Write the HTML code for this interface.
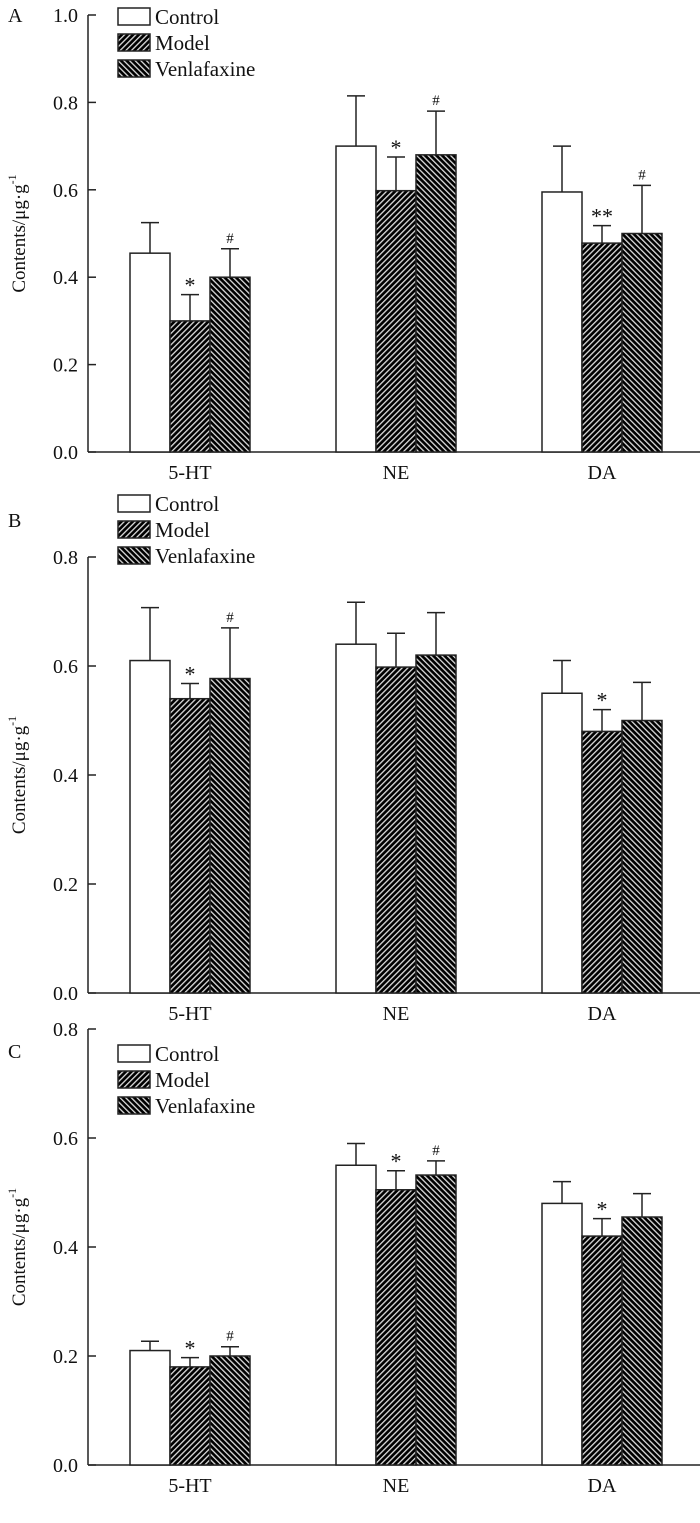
<!DOCTYPE html>
<html><head><meta charset="utf-8"><style>
body{margin:0;background:#fff}
svg text{font-family:"Liberation Serif",serif;fill:#111}
</style></head><body>
<svg id="chart" width="700" height="1518" viewBox="0 0 700 1518" xmlns="http://www.w3.org/2000/svg">
<defs>
<pattern id="hatchM" patternUnits="userSpaceOnUse" width="4" height="4" patternTransform="rotate(45)">
<rect width="4" height="4" fill="#000"/><rect x="0" width="1.3" height="4" fill="#ddd"/></pattern>
<pattern id="hatchV" patternUnits="userSpaceOnUse" width="4" height="4" patternTransform="rotate(-45)">
<rect width="4" height="4" fill="#000"/><rect x="0" width="1.3" height="4" fill="#ddd"/></pattern>
</defs>
<g id="root"></g>
</svg>
<script>
const categories=["5-HT","NE","DA"];
const seriesNames=["Control","Model","Venlafaxine"];
const A_means=[[0.455,0.70,0.595],[0.30,0.598,0.478],[0.40,0.68,0.50]];
const A_errs=[[0.525,0.815,0.70],[0.36,0.675,0.518],[0.465,0.78,0.61]];
const A_marks=[["","",""],["*","*","**"],["#","#","#"]];
const A_ticks=["0.0","0.2","0.4","0.6","0.8","1.0"];
const B_means=[[0.61,0.64,0.55],[0.54,0.598,0.48],[0.577,0.62,0.50]];
const B_errs=[[0.707,0.717,0.61],[0.568,0.66,0.52],[0.67,0.698,0.57]];
const B_marks=[["","",""],["*","","*"],["#","",""]];
const B_ticks=["0.0","0.2","0.4","0.6","0.8"];
const C_means=[[0.21,0.55,0.48],[0.18,0.505,0.42],[0.20,0.532,0.455]];
const C_errs=[[0.227,0.59,0.52],[0.197,0.54,0.452],[0.217,0.558,0.498]];
const C_marks=[["","",""],["*","*","*"],["#","#",""]];
const C_ticks=["0.0","0.2","0.4","0.6","0.8"];

const NS="http://www.w3.org/2000/svg";
const root=document.getElementById('root');
function mk(tag,attrs,parent){const e=document.createElementNS(NS,tag);for(const k in attrs)e.setAttribute(k,attrs[k]);(parent||root).appendChild(e);return e;}
const fills=["#fff","url(#hatchM)","url(#hatchV)"];

function panel(letter,top,y0,yTop,maxV,ticks,means,errs,marks,legY){
  const g=mk('g',{});
  
  
  const y=v=>y0-(v/maxV)*(y0-yTop);
  const x=(ci,si)=>130+ci*206+si*40;
  const lab=mk('text',{x:8,y:top,'font-size':20},g);lab.textContent=letter;
  
  
  const ax=mk('line',{x1:88,y1:yTop,x2:88,y2:y0,stroke:'#222','stroke-width':1.5},g);
  
  
  const xa=mk('line',{x1:88,y1:y0,x2:700,y2:y0,stroke:'#222','stroke-width':1.5},g);
  
  
  ticks.forEach(t=>{const v=parseFloat(t);const yy=y(v);
    mk('line',{x1:88,y1:yy,x2:96,y2:yy,stroke:'#222','stroke-width':1.5},g);
    const tx=mk('text',{x:78,y:yy+7,'font-size':20,'text-anchor':'end'},g);tx.textContent=t;
    
    });
  const cy=(yTop+y0)/2;
  const tt=mk('text',{x:0,y:0,'font-size':19,'text-anchor':'middle',transform:`translate(25,${cy}) rotate(-90)`},g);
  tt.innerHTML='Contents/μg·g<tspan dy="-9" font-size="12">-1</tspan>';
  
  
  categories.forEach((c,ci)=>{
    const cl=mk('text',{x:x(ci,1.5),y:y0+27,'font-size':20,'text-anchor':'middle'},g);cl.textContent=c;
    
    
    for(let si=0;si<3;si++){
      const bx=x(ci,si),bt=y(means[si][ci]),et=y(errs[si][ci]),cx=bx+20;
      mk('line',{x1:cx,y1:bt,x2:cx,y2:et,stroke:'#222','stroke-width':1.5},g);
      mk('line',{x1:cx-9,y1:et,x2:cx+9,y2:et,stroke:'#222','stroke-width':1.5},g);
      const r=mk('rect',{x:bx,y:bt,width:40,height:y0-bt,fill:fills[si],stroke:'#222','stroke-width':1.5},g);
      
      
      const m=marks[si][ci];
      if(m){const isStar=m.indexOf('*')>=0;
        const mt=mk('text',{x:cx,y:et-(isStar?2:6),'font-size':isStar?22:15,'text-anchor':'middle'},g);mt.textContent=m;
        
        }
    }
  });
  seriesNames.forEach((s,si)=>{
    const ly=legY+si*26;
    const lr=mk('rect',{x:118,y:ly,width:32,height:17,fill:fills[si],stroke:'#222','stroke-width':1.5},g);
    
    
    const lt=mk('text',{x:155,y:ly+16,'font-size':21},g);lt.textContent=s;
    
    
  });
}
panel('A',22,452,15,1.0,A_ticks,A_means,A_errs,A_marks,8);
panel('B',527,993,557,0.8,B_ticks,B_means,B_errs,B_marks,495);
panel('C',1058,1465,1029,0.8,C_ticks,C_means,C_errs,C_marks,1045);
</script>
</body></html>
